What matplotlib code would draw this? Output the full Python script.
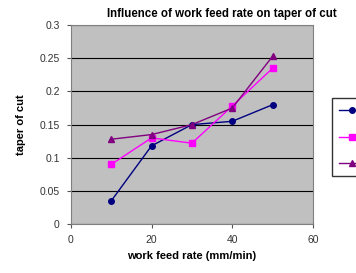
import matplotlib
matplotlib.use("Agg")
import matplotlib.pyplot as plt

plt.rcParams['font.family'] = ['Liberation Sans', 'DejaVu Sans']

# feed rate (mm/min) vs taper of cut
feed = [10, 20, 30, 40, 50]
taper_1 = [0.035, 0.118, 0.150, 0.155, 0.180]
taper_2 = [0.090, 0.130, 0.122, 0.178, 0.235]
taper_3 = [0.128, 0.135, 0.150, 0.175, 0.253]
# legend text is cropped off in the original image
labels = ['', '', '']

fig = plt.figure(figsize=(3.56, 2.73), dpi=100)
ax = fig.add_axes([0.199, 0.179, 0.68, 0.729])
ax.set_facecolor('#c0c0c0')

l1, = ax.plot(feed, taper_1, color='#000080', marker='o', ms=4, lw=1)
l2, = ax.plot(feed, taper_2, color='#ff00ff', marker='s', ms=4, lw=1)
l3, = ax.plot(feed, taper_3, color='#800080', marker='^', ms=4.5, lw=1)

ax.set_xlim(0, 60)
ax.set_ylim(0, 0.3)
ax.set_xticks([0, 20, 40, 60])
ax.set_yticks([0, 0.05, 0.1, 0.15, 0.2, 0.25, 0.3])
ax.set_yticklabels(['0', '0.05', '0.1', '0.15', '0.2', '0.25', '0.3'])
ax.yaxis.grid(True, color='black', lw=0.8)
ax.set_axisbelow(True)
ax.tick_params(labelsize=7.5, length=3, pad=5, color='#555555', labelcolor='#333333')
for s in ax.spines.values():
    s.set_color('#808080')

ax.set_xlabel('work feed rate (mm/min)', fontsize=8, fontweight='bold', labelpad=4)
ax.set_ylabel('taper of cut', fontsize=8, fontweight='bold', labelpad=10)
fig.text(0.622, 0.95, 'Influence of work feed rate on taper of cut', fontsize=8.3,
         fontweight='bold', ha='center', va='center')

fig.legend([l1, l2, l3], labels, loc='upper left', bbox_to_anchor=(0.918, 0.66),
           fontsize=7, frameon=True, fancybox=False, edgecolor='black',
           handlelength=2.5, labelspacing=1.7, borderpad=0.8)

fig.savefig('out.png', dpi=100)
